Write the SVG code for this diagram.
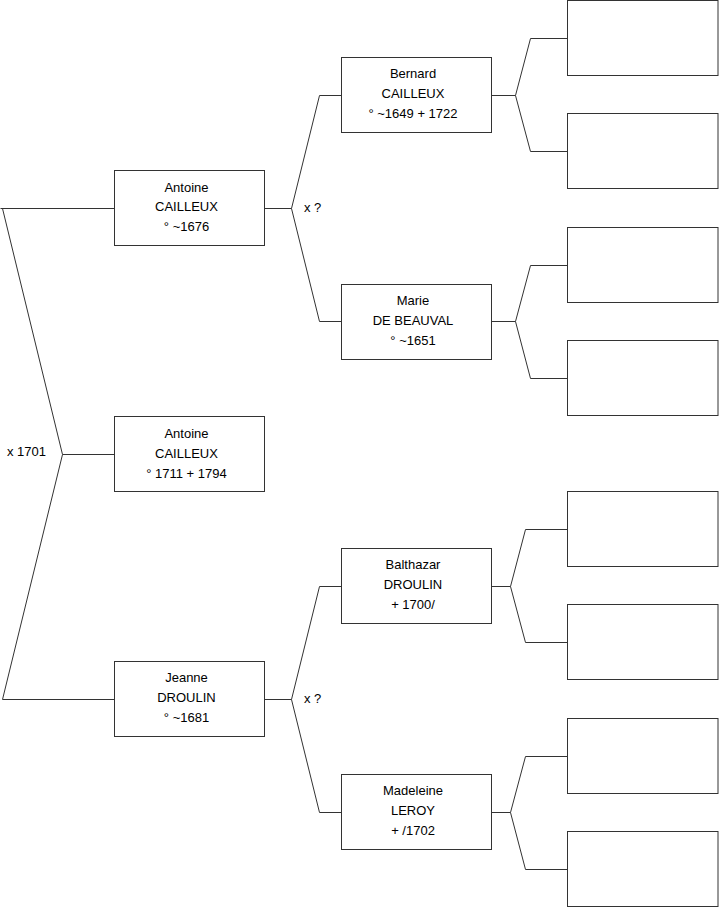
<svg xmlns="http://www.w3.org/2000/svg" width="719" height="908" viewBox="0 0 719 908">
<style>
rect{fill:#fff;stroke:#333;stroke-width:1}
.c path{fill:none;stroke:#333;stroke-width:1}
text{font-family:"Liberation Sans",Arial,sans-serif;font-size:13px;fill:#000}
.m{text-anchor:middle}
</style>
<rect x="0" y="0" width="719" height="908" style="fill:#fff;stroke:none"/>
<g class="c" id="connectors">
<path d="M0.5,208.5 H114 M2.5,208.5 L62.5,454.5 L2.5,699.5 H114 M62.5,454.5 H114"/>
<path d="M265,208.5 H291.5 L319.5,95.5 H341 M291.5,208.5 L319.5,321.5 H341"/>
<path d="M265,699.5 H291.5 L319.5,586.5 H341 M291.5,699.5 L319.5,812.5 H341"/>
<path d="M491,95.5 H515.5 L530.5,38.5 H567 M515.5,95.5 L530.5,151.5 H567"/>
<path d="M491,321.5 H515.5 L530.5,265.5 H567 M515.5,321.5 L530.5,378.5 H567"/>
<path d="M491,586.5 H510.5 L525.5,529.5 H567 M510.5,586.5 L525.5,642.5 H567"/>
<path d="M491,812.5 H510.5 L525.5,756.5 H567 M510.5,812.5 L525.5,869.5 H567"/>
<text x="304" y="212">x ?</text>
<text x="304" y="703">x ?</text>
<text x="7" y="456">x 1701</text>
</g>
<g id="n0"><rect x="114.5" y="416.5" width="150" height="75"/><text class="m" x="186.5" y="438">Antoine</text><text class="m" x="186.5" y="458">CAILLEUX</text><text class="m" x="186.5" y="478">° 1711 + 1794</text></g>
<g id="n1"><rect x="114.5" y="170.5" width="150" height="75"/><text class="m" x="186.5" y="191.5">Antoine</text><text class="m" x="186.5" y="211">CAILLEUX</text><text class="m" x="186.5" y="231">° ~1676</text></g>
<g id="n2"><rect x="114.5" y="661.5" width="150" height="75"/><text class="m" x="186.5" y="682">Jeanne</text><text class="m" x="186.5" y="702">DROULIN</text><text class="m" x="186.5" y="722">° ~1681</text></g>
<g id="n3"><rect x="341.5" y="57.5" width="150" height="75"/><text class="m" x="413" y="78">Bernard</text><text class="m" x="413" y="98">CAILLEUX</text><text class="m" x="413" y="118">° ~1649 + 1722</text></g>
<g id="n4"><rect x="341.5" y="284.5" width="150" height="75"/><text class="m" x="413" y="305">Marie</text><text class="m" x="413" y="325">DE BEAUVAL</text><text class="m" x="413" y="345">° ~1651</text></g>
<g id="n5"><rect x="341.5" y="548.5" width="150" height="75"/><text class="m" x="413" y="569">Balthazar</text><text class="m" x="413" y="589">DROULIN</text><text class="m" x="413" y="609">+ 1700/</text></g>
<g id="n6"><rect x="341.5" y="774.5" width="150" height="75"/><text class="m" x="413" y="795">Madeleine</text><text class="m" x="413" y="815">LEROY</text><text class="m" x="413" y="835">+ /1702</text></g>
<g id="n7"><rect x="567.5" y="0.5" width="150.5" height="75"/></g>
<g id="n8"><rect x="567.5" y="113.5" width="150.5" height="75"/></g>
<g id="n9"><rect x="567.5" y="227.5" width="150.5" height="75"/></g>
<g id="n10"><rect x="567.5" y="340.5" width="150.5" height="75"/></g>
<g id="n11"><rect x="567.5" y="491.5" width="150.5" height="75"/></g>
<g id="n12"><rect x="567.5" y="604.5" width="150.5" height="75"/></g>
<g id="n13"><rect x="567.5" y="718.5" width="150.5" height="75"/></g>
<g id="n14"><rect x="567.5" y="831.5" width="150.5" height="75"/></g>
</svg>
